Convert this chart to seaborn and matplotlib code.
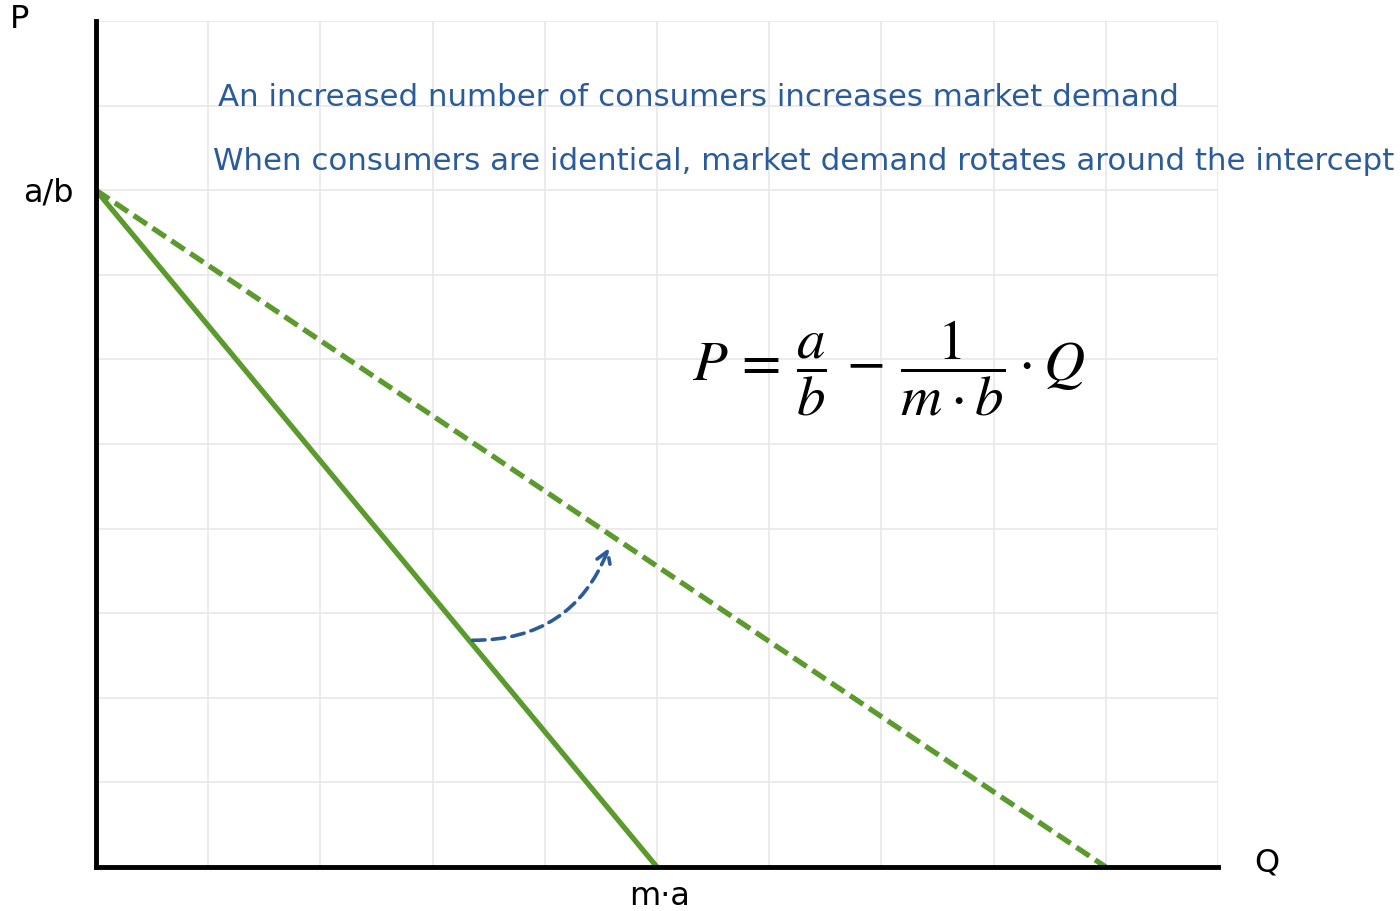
import matplotlib
matplotlib.use("Agg")
import matplotlib.pyplot as plt
import seaborn as sns
import pandas as pd
from matplotlib.patches import FancyArrowPatch

# data
q_solid = [0, 5]
p_solid = [8, 0]
q_dashed = [0, 9]
p_dashed = [8, 0]
arrow_start = (3.33, 2.68)
arrow_end = (4.58, 3.80)
x_ticks = list(range(0, 11))
y_ticks = list(range(0, 11))
title1 = "An increased number of consumers increases market demand"
title2 = "When consumers are identical, market demand rotates around the intercept"

sns.set_style("whitegrid")
plt.rcParams['font.family'] = ['DejaVu Sans']
plt.rcParams['mathtext.fontset'] = 'stix'

green = "#5b9a2c"
blue = "#2a5b9b"

fig = plt.figure(figsize=(14, 9.12), dpi=100)
ax = fig.add_axes([96/1400, 44/912, (1218-96)/1400, (868-22)/912])

df1 = pd.DataFrame({"Q": q_solid, "P": p_solid})
df2 = pd.DataFrame({"Q": q_dashed, "P": p_dashed})
sns.lineplot(data=df1, x="Q", y="P", ax=ax, color=green, linewidth=3.8, zorder=3)
sns.lineplot(data=df2, x="Q", y="P", ax=ax, color=green, linewidth=3.8,
             linestyle=(0, (3, 1.3)), zorder=3)

ax.set_xlim(0, 10)
ax.set_ylim(0, 10)
ax.set_xticks(x_ticks)
ax.set_yticks(y_ticks)
ax.tick_params(labelbottom=False, labelleft=False, length=0)
ax.grid(True, color="#e8e8e8", linewidth=1.2)
ax.set_xlabel("")
ax.set_ylabel("")
for s in ["top", "right"]:
    ax.spines[s].set_visible(False)
for s in ["left", "bottom"]:
    ax.spines[s].set_color("black")
    ax.spines[s].set_linewidth(3.5)
    ax.spines[s].set_zorder(4)

arr = FancyArrowPatch(arrow_start, arrow_end, connectionstyle="arc3,rad=0.35",
                      arrowstyle="->,head_length=8,head_width=5", color=blue,
                      linewidth=2.6, linestyle=(0, (3.5, 2)), zorder=5)
ax.add_patch(arr)

fig.text(218/1400, 1 - 97/912, title1, color=blue, fontsize=22.2, ha="left", va="center")
fig.text(213/1400, 1 - 162/912, title2, color=blue, fontsize=22.2, ha="left", va="center")

fig.text(889/1400, 1 - 368/912,
         r"$P\,=\,\dfrac{a}{b}\,-\,\dfrac{1}{m\cdot b}\cdot Q$",
         fontsize=41, ha="center", va="center", color="black")

lab_kw = dict(fontsize=23, ha="center", va="center", color="black")
fig.text(20/1400, 1 - 20/912, "P", **lab_kw)
fig.text(48/1400, 1 - 193/912, "a/b", **lab_kw)
fig.text(660/1400, 1 - 897/912, "m·a", **lab_kw)
fig.text(1267/1400, 1 - 863/912, "Q", **lab_kw)

fig.savefig("out.png", dpi=100)
